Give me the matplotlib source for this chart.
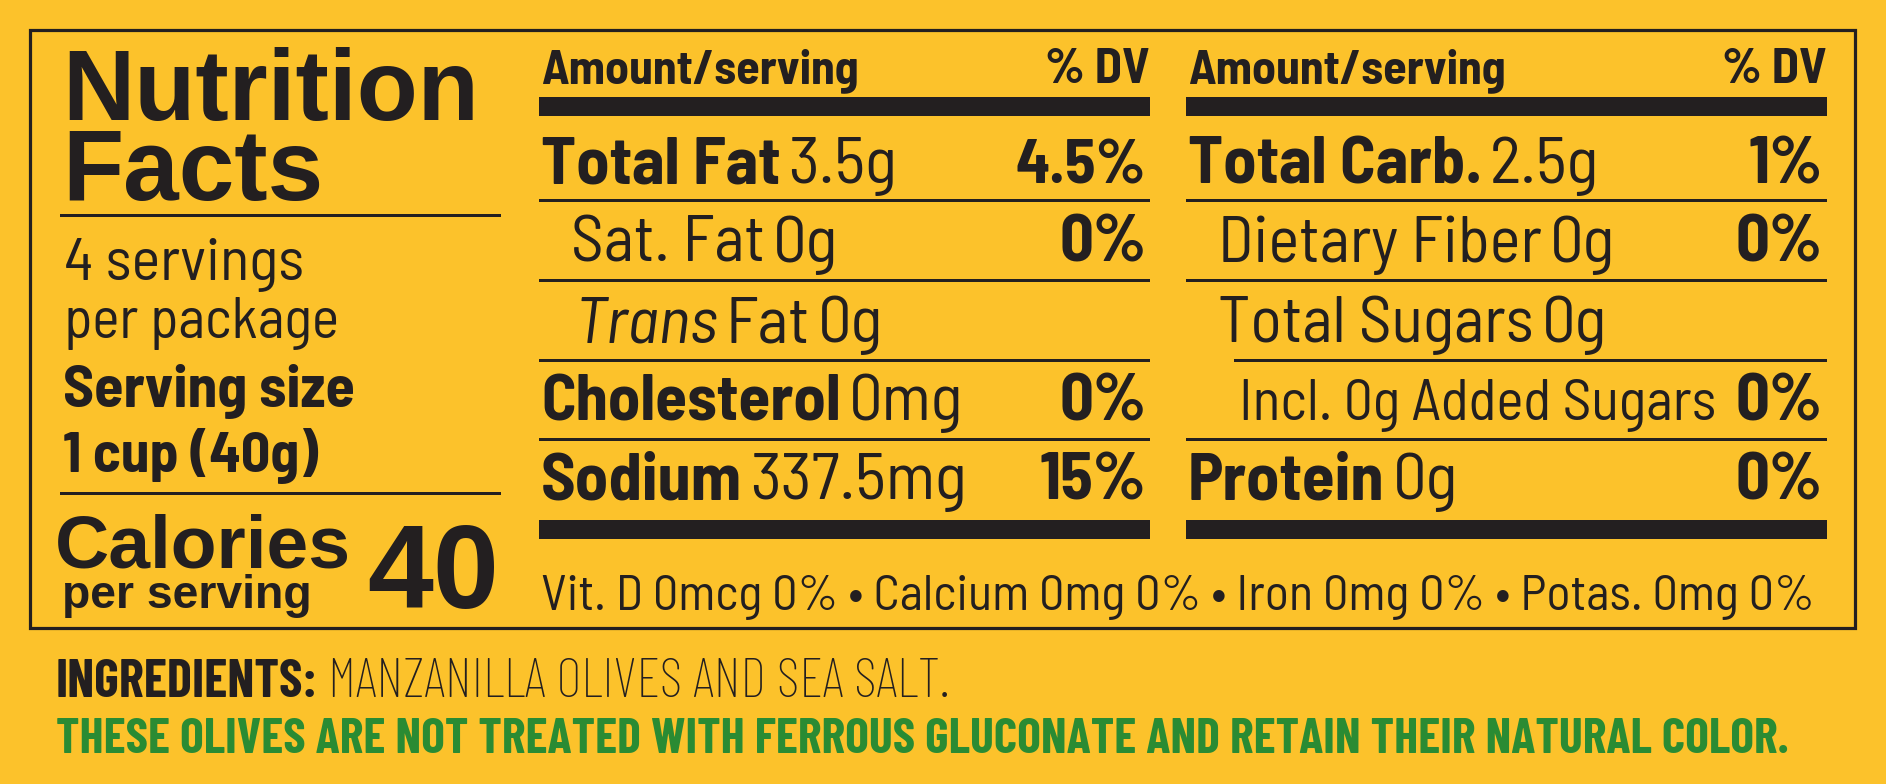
"""Nutrition facts label for a jar of manzanilla olives"""
import matplotlib
matplotlib.use("Agg")
import matplotlib.pyplot as plt
from matplotlib.patches import Rectangle

# Label content
SERVINGS = "4 servings"
PER_PACKAGE = "per package"
SERVING_SIZE = "1 cup (40g)"
CALORIES = "40"

LEFT_NAMES = ["Total Fat", "Sat. Fat", "Trans Fat", "Cholesterol", "Sodium"]
LEFT_AMOUNTS = ["3.5g", "0g", "0g", "0mg", "337.5mg"]
LEFT_DV = ["4.5%", "0%", "", "0%", "15%"]
LEFT_INDENT = [0, 1, 1, 0, 0]

RIGHT_NAMES = ["Total Carb.", "Dietary Fiber", "Total Sugars",
               "Incl. 0g Added Sugars", "Protein"]
RIGHT_AMOUNTS = ["2.5g", "0g", "0g", "", "0g"]
RIGHT_DV = ["1%", "0%", "", "0%", "0%"]
RIGHT_INDENT = [0, 1, 1, 2, 0]

VIT_NAMES = ["Vit. D", "Calcium", "Iron", "Potas."]
VIT_AMOUNTS = ["0mcg", "0mg", "0mg", "0mg"]
VIT_DV = ["0%", "0%", "0%", "0%"]

INGREDIENTS = "MANZANILLA OLIVES AND SEA SALT."
NOTE = ("THESE OLIVES ARE NOT TREATED WITH FERROUS GLUCONATE "
        "AND RETAIN THEIR NATURAL COLOR.")

BG = "#FCC22B"
INK = "#231F20"
GREEN = "#2A8B33"
NARROW = ["Barlow Semi Condensed", "Liberation Sans", "DejaVu Sans"]
TIGHT = ["Barlow Condensed", "Liberation Sans", "DejaVu Sans"]
WIDE = ["Liberation Sans", "DejaVu Sans"]

fig = plt.figure(figsize=(18.86, 7.84), dpi=100, facecolor=BG)
ax = fig.add_axes([0, 0, 1, 1])
ax.set_xlim(0, 1886)
ax.set_ylim(784, 0)
ax.axis("off")
renderer = fig.canvas.get_renderer()


def txt(x, y, s, size, family=NARROW, weight="normal", style="normal",
        ha="left", color=INK, max_w=None):
    t = ax.text(x, y, s, fontsize=size, family=family, weight=weight,
                style=style, ha=ha, va="baseline", color=color)
    if max_w is not None:
        w = t.get_window_extent(renderer).width
        if w > max_w:
            t.set_fontsize(size * max_w / w)
    return t


def right_end(t):
    return t.get_window_extent(renderer).x1


def bar(x0, x1, y0, y1):
    ax.add_patch(Rectangle((x0, y0), x1 - x0, y1 - y0, color=INK, lw=0))


# outer box
ax.add_patch(Rectangle((30, 30), 1825, 598, fill=False, ec=INK, lw=2.3))

# left block
txt(62, 120, "Nutrition", 72, family=WIDE, weight="bold", max_w=418)
txt(62, 200, "Facts", 72, family=WIDE, weight="bold")
bar(60, 501, 214, 217)
txt(64, 280, SERVINGS, 48, max_w=240)
txt(64, 338, PER_PACKAGE, 48, max_w=275)
txt(63, 407, "Serving size", 45, weight="bold", max_w=292)
txt(63, 472, SERVING_SIZE, 45, weight="bold", max_w=255)
bar(60, 501, 492, 495)
txt(55, 568, "Calories", 54, family=WIDE, weight="bold", max_w=300)
txt(62, 608, "per serving", 35, family=WIDE, weight="bold", max_w=250)
txt(499, 608, CALORIES, 86, family=WIDE, weight="bold", ha="right",
    max_w=132)

# nutrient columns
ROW_BASE = [183, 262, 342, 420, 499]
ROW_LINES = [200, 280, 360, 439]


def column(x0, x1, names, amounts, dvs, indents):
    txt(x0 + 2, 83, "Amount/serving", 36, weight="bold", max_w=318)
    txt(x1, 83, "% DV", 36, weight="bold", ha="right")
    bar(x0, x1, 97, 116)
    for i, y in enumerate(ROW_LINES):
        start = x0 + (48 if indents[i + 1] == 2 else 0)
        bar(start, x1, y - 1, y + 1.5)
    for name, amt, dv, ind, y in zip(names, amounts, dvs, indents, ROW_BASE):
        x = x0 + 2 + [0, 30, 51][ind]
        room = x1 - x - 110
        if ind == 0:
            t = txt(x, y, name, 48, weight="bold", max_w=room * 0.6)
        elif name.startswith("Trans"):
            t = txt(x + 4, y, "Trans", 48, style="italic")
            t = txt(right_end(t) + 7, y, name[len("Trans "):], 48)
        else:
            t = txt(x, y, name, 47, max_w=room)
        end = right_end(t) + 8
        if amt:
            txt(end, y, amt, 48, max_w=x0 + room + 40 - end)
        if dv:
            txt(x1 - 4, y, dv, 48, weight="bold", ha="right", max_w=130)
    bar(x0, x1, 520, 539)


column(539, 1150, LEFT_NAMES, LEFT_AMOUNTS, LEFT_DV, LEFT_INDENT)
column(1186, 1827, RIGHT_NAMES, RIGHT_AMOUNTS, RIGHT_DV, RIGHT_INDENT)

vit_line = " \u2022 ".join(f"{n} {a} {d}"
                           for n, a, d in zip(VIT_NAMES, VIT_AMOUNTS, VIT_DV))
txt(541, 610, vit_line, 48, max_w=1276)

# ingredients and note
t = txt(56, 697, "INGREDIENTS:", 38, family=TIGHT, weight="bold", max_w=262)
x = right_end(t) + 10
txt(x, 697, INGREDIENTS, 40, family=TIGHT, weight="light", max_w=950 - x)
txt(56, 753, NOTE, 39, family=TIGHT, weight="bold", color=GREEN, max_w=1730)

fig.savefig("out.png", dpi=100, facecolor=BG)
